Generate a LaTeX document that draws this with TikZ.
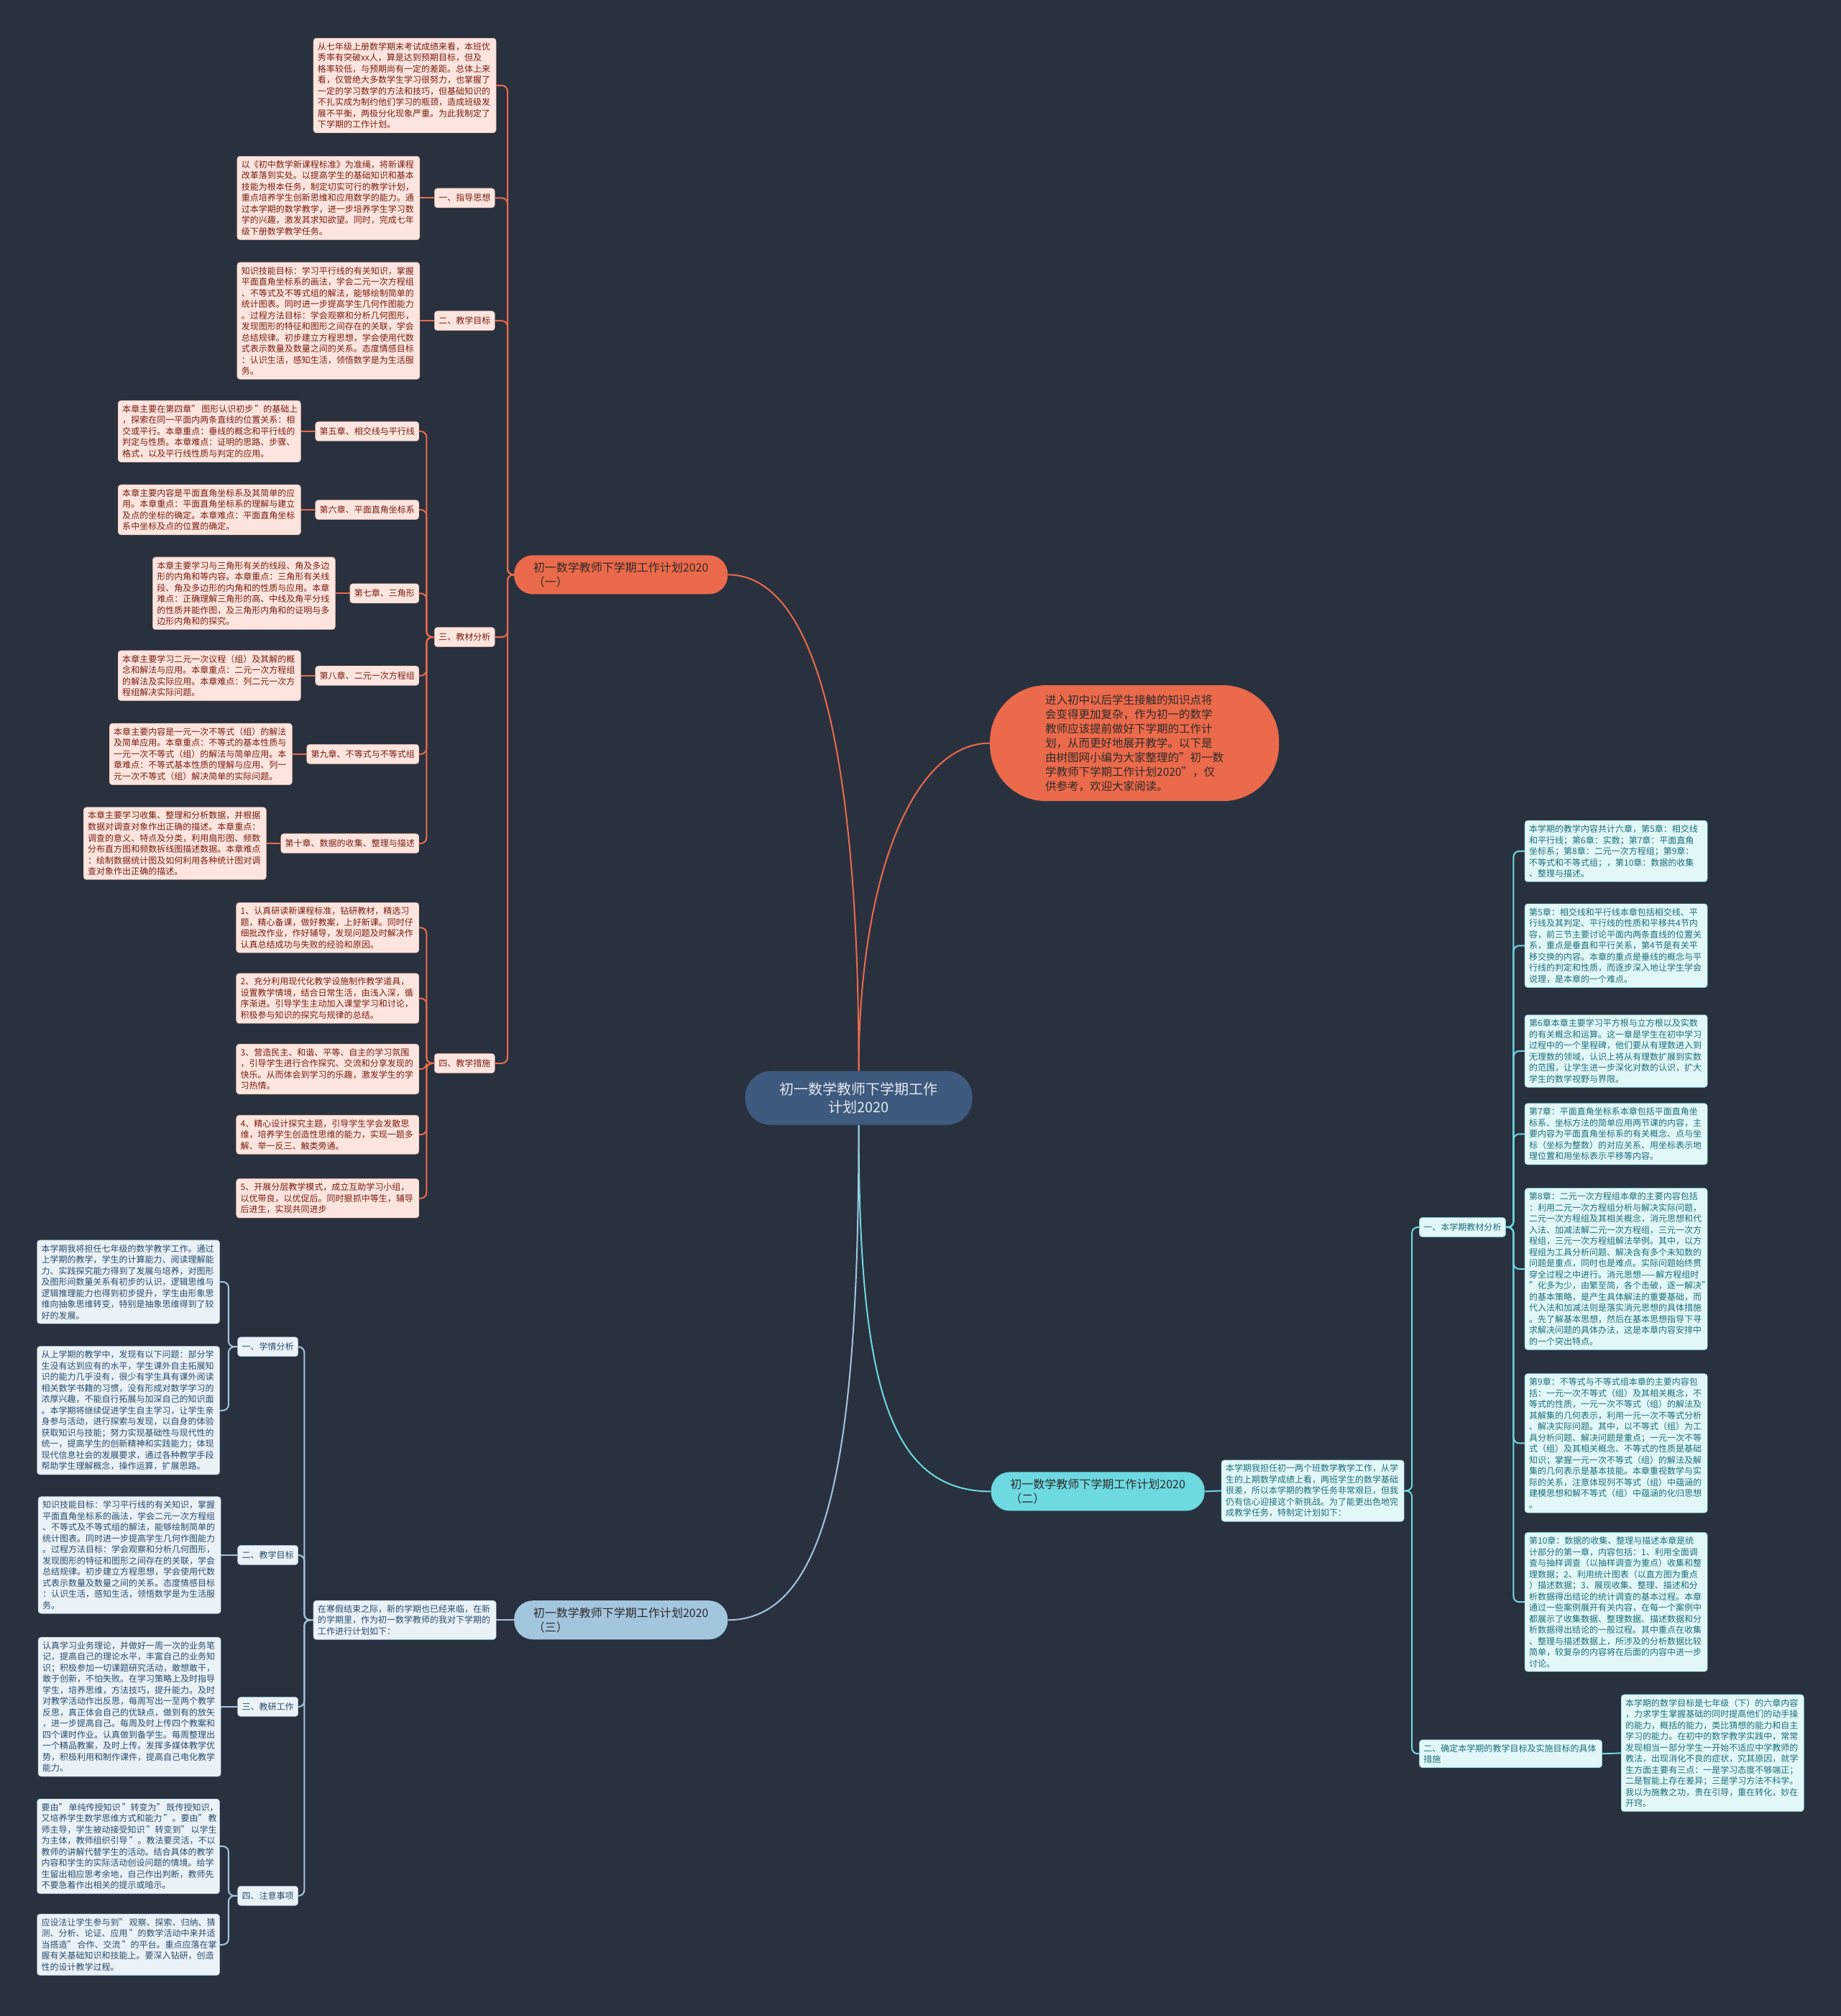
\documentclass[tikz,border=0pt]{standalone}
\usepackage{fontspec}
\setmainfont{Noto Sans CJK SC}
\usetikzlibrary{positioning}

\definecolor{bgc}{HTML}{29313F}
\definecolor{orng}{HTML}{EB6A4B}
\definecolor{ofill}{HTML}{FCE5DE}
\definecolor{otext}{HTML}{7A1E12}
\definecolor{oedge}{HTML}{E9B3A2}
\definecolor{cyn}{HTML}{6DDAE2}
\definecolor{cfill}{HTML}{E2F7F8}
\definecolor{ctext}{HTML}{1C6F79}
\definecolor{lblu}{HTML}{A3C6DF}
\definecolor{bfill}{HTML}{EAF2F8}
\definecolor{btext}{HTML}{2A4C6C}
\definecolor{ctrc}{HTML}{3E5A7E}
\definecolor{ctrtext}{HTML}{E3E9F1}
\definecolor{brtext}{HTML}{2E2A2A}

\newcommand{\boxfont}{\fontsize{12pt}{15.5pt}\selectfont}

\tikzset{
  box/.style={rounded corners=4pt, inner xsep=6pt, inner ysep=6pt, font=\boxfont, align=left},
  otxt/.style={box, draw=oedge, fill=ofill, text=otext, text width=242pt},
  olab/.style={box, draw=oedge, fill=ofill, text=otext, minimum height=27pt},
  btxt/.style={box, draw=lblu, fill=bfill, text=btext, text width=242pt},
  blab/.style={box, draw=lblu, fill=bfill, text=btext, minimum height=27pt},
  ctxt/.style={box, draw=cyn, fill=cfill, text=ctext, text width=242pt},
  clab/.style={box, draw=cyn, fill=cfill, text=ctext, minimum height=27pt},
  bran/.style={rounded corners=26pt, minimum width=297pt, minimum height=54pt,
    font=\fontsize{16pt}{20pt}\selectfont, align=left, text=brtext},
  oline/.style={draw=orng, line width=2pt, rounded corners=8pt},
  bline/.style={draw=lblu, line width=2pt, rounded corners=8pt},
  cline/.style={draw=cyn, line width=2pt, rounded corners=8pt},
}

\begin{document}
\begin{tikzpicture}[x=1.7877pt,y=-1.7877pt]
	\fill[bgc] (0,0) rectangle (1432,1568);
	\useasboundingbox (0,0) rectangle (1432,1568);

	\node[fill=ctrc, rounded corners=36pt, minimum width=316pt, minimum height=75pt, text=ctrtext,
		font=\fontsize{20pt}{25pt}\selectfont, align=center] (ctr) at (668,854) {初一数学教师下学期工作\\计划2020};
	\node[fill=orng, rounded corners=78pt, minimum width=402pt, minimum height=161pt, text=brtext,
		font=\fontsize{15.5pt}{20pt}\selectfont, align=left] (intro) at (882.5,578)
		{进入初中以后学生接触的知识点将\\会变得更加复杂，作为初一的数学\\教师应该提前做好下学期的工作计\\划，从而更好地展开教学。以下是\\由树图网小编为大家整理的"初一数\\学教师下学期工作计划2020"，仅\\供参考，欢迎大家阅读。};

	% (一)
	\node[bran, fill=orng] (br1) at (483,447) {初一数学教师下学期工作计划2020\\（一）};
	\node[otxt, anchor=east] (p1) at (386,66.5) {从七年级上册数学期末考试成绩来看，本班优\\秀率有突破xx人，算是达到预期目标，但及\\格率较低，与预期尚有一定的差距。总体上来\\看，仅管绝大多数学生学习很努力，也掌握了\\一定的学习数学的方法和技巧，但基础知识的\\不扎实成为制约他们学习的瓶颈，造成班级发\\展不平衡，两极分化现象严重。为此我制定了\\下学期的工作计划。};
	\node[olab, anchor=east] (g1) at (385,154) {一、指导思想};
	\node[otxt, left=20pt of g1] (g1t) {以《初中数学新课程标准》为准绳，将新课程\\改革落到实处。以提高学生的基础知识和基本\\技能为根本任务，制定切实可行的教学计划，\\重点培养学生创新思维和应用数学的能力。通\\过本学期的数学教学，进一步培养学生学习数\\学的兴趣，激发其求知欲望。同时，完成七年\\级下册数学教学任务。};
	\node[olab, anchor=east] (g2) at (385,249.5) {二、教学目标};
	\node[otxt, left=20pt of g2] (g2t) {知识技能目标：学习平行线的有关知识，掌握\\平面直角坐标系的画法，学会二元一次方程组\\、不等式及不等式组的解法，能够绘制简单的\\统计图表。同时进一步提高学生几何作图能力\\。过程方法目标：学会观察和分析几何图形，\\发现图形的特征和图形之间存在的关联，学会\\总结规律。初步建立方程思想，学会使用代数\\式表示数量及数量之间的关系。态度情感目标\\：认识生活，感知生活，领悟数学是为生活服\\务。};
	\node[olab, anchor=east] (g3) at (385,495.5) {三、教材分析};
	\node[olab, anchor=east] (c5) at (326,335.5) {第五章、相交线与平行线};
	\node[otxt, left=20pt of c5] (t5) {本章主要在第四章"\,图形认识初步\,"的基础上\\，探索在同一平面内两条直线的位置关系：相\\交或平行。本章重点：垂线的概念和平行线的\\判定与性质。本章难点：证明的思路、步骤、\\格式，以及平行线性质与判定的应用。};
	\node[olab, anchor=east] (c6) at (326,396.5) {第六章、平面直角坐标系};
	\node[otxt, left=20pt of c6] (t6) {本章主要内容是平面直角坐标系及其简单的应\\用。本章重点：平面直角坐标系的理解与建立\\及点的坐标的确定。本章难点：平面直角坐标\\系中坐标及点的位置的确定。};
	\node[olab, anchor=east] (c7) at (326,461.5) {第七章、三角形};
	\node[otxt, left=20pt of c7] (t7) {本章主要学习与三角形有关的线段、角及多边\\形的内角和等内容。本章重点：三角形有关线\\段、角及多边形的内角和的性质与应用。本章\\难点：正确理解三角形的高、中线及角平分线\\的性质并能作图，及三角形内角和的证明与多\\边形内角和的探究。};
	\node[olab, anchor=east] (c8) at (326,525.5) {第八章、二元一次方程组};
	\node[otxt, left=20pt of c8] (t8) {本章主要学习二元一次议程（组）及其解的概\\念和解法与应用。本章重点：二元一次方程组\\的解法及实际应用。本章难点：列二元一次方\\程组解决实际问题。};
	\node[olab, anchor=east] (c9) at (326,586.5) {第九章、不等式与不等式组};
	\node[otxt, left=20pt of c9] (t9) {本章主要内容是一元一次不等式（组）的解法\\及简单应用。本章重点：不等式的基本性质与\\一元一次不等式（组）的解法与简单应用。本\\章难点：不等式基本性质的理解与应用、列一\\元一次不等式（组）解决简单的实际问题。};
	\node[olab, anchor=east] (c10) at (326,656) {第十章、数据的收集、整理与描述};
	\node[otxt, left=20pt of c10] (t10) {本章主要学习收集、整理和分析数据，并根据\\数据对调查对象作出正确的描述。本章重点：\\调查的意义、特点及分类，利用扇形图、频数\\分布直方图和频数拆线图描述数据。本章难点\\：绘制数据统计图及如何利用各种统计图对调\\查对象作出正确的描述。};
	\node[olab, anchor=east] (g4) at (385,827) {四、教学措施};
	\node[otxt, anchor=east] (m1) at (326,721.5) {1、认真研读新课程标准，钻研教材，精选习\\题，精心备课，做好教案，上好新课。同时仔\\细批改作业，作好辅导，发现问题及时解决作\\认真总结成功与失败的经验和原因。};
	\node[otxt, anchor=east] (m2) at (326,776.5) {2、充分利用现代化教学设施制作教学道具，\\设置教学情境，结合日常生活，由浅入深，循\\序渐进。引导学生主动加入课堂学习和讨论，\\积极参与知识的探究与规律的总结。};
	\node[otxt, anchor=east] (m3) at (326,831.5) {3、营造民主、和谐、平等、自主的学习氛围\\，引导学生进行合作探究、交流和分享发现的\\快乐。从而体会到学习的乐趣，激发学生的学\\习热情。};
	\node[otxt, anchor=east] (m4) at (326,882.5) {4、精心设计探究主题，引导学生学会发散思\\维，培养学生创造性思维的能力，实现一题多\\解、举一反三、触类旁通。};
	\node[otxt, anchor=east] (m5) at (326,932) {5、开展分层教学模式，成立互助学习小组，\\以优带良，以优促后。同时狠抓中等生，辅导\\后进生，实现共同进步};

	\foreach \c in {p1,g1,g2,g3,g4}
		\draw[oline] (br1.west) -- ++(-5,0) |- (\c.east);
	\draw[oline] (g1.west) -- (g1t.east);
	\draw[oline] (g2.west) -- (g2t.east);
	\foreach \c in {5,...,10} {
		\draw[oline] (g3.west) -- ++(-6,0) |- (c\c.east);
		\draw[oline] (c\c.west) -- (t\c.east);
	}
	\foreach \c in {m1,m2,m3,m4,m5}
		\draw[oline] (g4.west) -- ++(-6,0) |- (\c.east);

	% (三)
	\node[bran, fill=lblu] (br3) at (483,1260) {初一数学教师下学期工作计划2020\\（三）};
	\node[btxt, anchor=east] (b0) at (386,1260) {在寒假结束之际，新的学期也已经来临，在新\\的学期里，作为初一数学教师的我对下学期的\\工作进行计划如下：};
	\node[blab, anchor=east] (s1) at (232,1047.5) {一、学情分析};
	\node[btxt, anchor=east] (s1a) at (171,997) {本学期我将担任七年级的数学教学工作。通过\\上学期的教学，学生的计算能力、阅读理解能\\力、实践探究能力得到了发展与培养，对图形\\及图形间数量关系有初步的认识，逻辑思维与\\逻辑推理能力也得到初步提升，学生由形象思\\维向抽象思维转变，特别是抽象思维得到了较\\好的发展。};
	\node[btxt, anchor=east] (s1b) at (171,1097) {从上学期的教学中，发现有以下问题：部分学\\生没有达到应有的水平，学生课外自主拓展知\\识的能力几乎没有，很少有学生具有课外阅读\\相关数学书籍的习惯，没有形成对数学学习的\\浓厚兴趣，不能自行拓展与加深自己的知识面\\。本学期将继续促进学生自主学习，让学生亲\\身参与活动，进行探索与发现，以自身的体验\\获取知识与技能；努力实现基础性与现代性的\\统一，提高学生的创新精神和实践能力；体现\\现代信息社会的发展要求，通过各种教学手段\\帮助学生理解概念，操作运算，扩展思路。};
	\node[blab, anchor=east] (s2) at (232,1209.5) {二、教学目标};
	\node[btxt, left=23pt of s2] (s2t) {知识技能目标：学习平行线的有关知识，掌握\\平面直角坐标系的画法，学会二元一次方程组\\、不等式及不等式组的解法，能够绘制简单的\\统计图表。同时进一步提高学生几何作图能力\\。过程方法目标：学会观察和分析几何图形，\\发现图形的特征和图形之间存在的关联，学会\\总结规律。初步建立方程思想，学会使用代数\\式表示数量及数量之间的关系。态度情感目标\\：认识生活，感知生活，领悟数学是为生活服\\务。};
	\node[blab, anchor=east] (s3) at (232,1327.5) {三、教研工作};
	\node[btxt, left=23pt of s3] (s3t) {认真学习业务理论，并做好一周一次的业务笔\\记，提高自己的理论水平，丰富自己的业务知\\识；积极参加一切课题研究活动，敢想敢干，\\敢于创新，不怕失败。在学习策略上及时指导\\学生，培养思维，方法技巧，提升能力。及时\\对教学活动作出反思，每周写出一至两个教学\\反思，真正体会自己的优缺点，做到有的放矢\\，进一步提高自己。每周及时上传四个教案和\\四个课时作业。认真做到备学生。每周整理出\\一个精品教案，及时上传。发挥多媒体教学优\\势，积极利用和制作课件，提高自己电化教学\\能力。};
	\node[blab, anchor=east] (s4) at (232,1474.5) {四、注意事项};
	\node[btxt, anchor=east] (s4a) at (171,1436) {要由"\,单纯传授知识\,"转变为"\,既传授知识，\\又培养学生数学思维方式和能力\,"。要由"\,教\\师主导，学生被动接受知识\,"转变到"\,以学生\\为主体，教师组织引导\,"。教法要灵活，不以\\教师的讲解代替学生的活动。结合具体的教学\\内容和学生的实际活动创设问题的情境。给学\\生留出相应思考余地，自己作出判断，教师先\\不要急着作出相关的提示或暗示。};
	\node[btxt, anchor=east] (s4b) at (171,1512.5) {应设法让学生参与到"\,观察、探索、归纳、猜\\测、分析、论证、应用\,"的数学活动中来并适\\当搭造"\,合作、交流\,"的平台。重点应落在掌\\握有关基础知识和技能上。要深入钻研，创造\\性的设计教学过程。};

	\draw[bline] (br3.west) -- (b0.east);
	\foreach \c in {s1,s2,s3,s4}
		\draw[bline] (b0.west) -- ++(-7,0) |- (\c.east);
	\foreach \c in {s1a,s1b}
		\draw[bline] (s1.west) -- ++(-7,0) |- (\c.east);
	\draw[bline] (s2.west) -- (s2t.east);
	\draw[bline] (s3.west) -- (s3t.east);
	\foreach \c in {s4a,s4b}
		\draw[bline] (s4.west) -- ++(-7,0) |- (\c.east);

	% (二)
	\node[bran, fill=cyn] (br2) at (854,1160) {初一数学教师下学期工作计划2020\\（二）};
	\node[ctxt, anchor=west] (c0) at (950,1159.5) {本学期我担任初一两个班数学教学工作，从学\\生的上期数学成绩上看，两班学生的数学基础\\很差，所以本学期的教学任务非常艰巨，但我\\仍有信心迎接这个新挑战。为了能更出色地完\\成教学任务，特制定计划如下：};
	\node[clab, anchor=west] (r1) at (1104,954.5) {一、本学期教材分析};
	\node[ctxt, anchor=west] (k1) at (1186,662) {本学期的教学内容共计六章，第5章：相交线\\和平行线；第6章：实数；第7章：平面直角\\坐标系；第8章：二元一次方程组；第9章：\\不等式和不等式组；，第10章：数据的收集\\、整理与描述。};
	\node[ctxt, anchor=west] (k2) at (1186,735.5) {第5章：相交线和平行线本章包括相交线、平\\行线及其判定、平行线的性质和平移共4节内\\容，前三节主要讨论平面内两条直线的位置关\\系，重点是垂直和平行关系，第4节是有关平\\移交换的内容。本章的重点是垂线的概念与平\\行线的判定和性质，而逐步深入地让学生学会\\说理，是本章的一个难点。};
	\node[ctxt, anchor=west] (k3) at (1186,817.5) {第6章本章主要学习平方根与立方根以及实数\\的有关概念和运算。这一章是学生在初中学习\\过程中的一个里程碑，他们要从有理数进入到\\无理数的领域，认识上将从有理数扩展到实数\\的范围，让学生进一步深化对数的认识，扩大\\学生的数学视野与界限。};
	\node[ctxt, anchor=west] (k4) at (1186,882) {第7章：平面直角坐标系本章包括平面直角坐\\标系、坐标方法的简单应用两节课的内容，主\\要内容为平面直角坐标系的有关概念、点与坐\\标（坐标为整数）的对应关系、用坐标表示地\\理位置和用坐标表示平移等内容。};
	\node[ctxt, anchor=west] (k5) at (1186,987) {第8章：二元一次方程组本章的主要内容包括\\：利用二元一次方程组分析与解决实际问题，\\二元一次方程组及其相关概念，消元思想和代\\入法、加减法解二元一次方程组，三元一次方\\程组，三元一次方程组解法举例。其中，以方\\程组为工具分析问题、解决含有多个未知数的\\问题是重点，同时也是难点。实际问题始终贯\\穿全过程之中进行。消元思想——解方程组时\\"化多为少，由繁至简，各个击破，逐一解决"\\的基本策略，是产生具体解法的重要基础，而\\代入法和加减法则是落实消元思想的具体措施\\。先了解基本思想，然后在基本思想指导下寻\\求解决问题的具体办法，这是本章内容安排中\\的一个突出特点。};
	\node[ctxt, anchor=west] (k6) at (1186,1122.5) {第9章：不等式与不等式组本章的主要内容包\\括：一元一次不等式（组）及其相关概念，不\\等式的性质，一元一次不等式（组）的解法及\\其解集的几何表示，利用一元一次不等式分析\\、解决实际问题。其中，以不等式（组）为工\\具分析问题、解决问题是重点；一元一次不等\\式（组）及其相关概念、不等式的性质是基础\\知识；掌握一元一次不等式（组）的解法及解\\集的几何表示是基本技能。本章重视数学与实\\际的关系，注意体现列不等式（组）中蕴涵的\\建模思想和解不等式（组）中蕴涵的化归思想\\。};
	\node[ctxt, anchor=west] (k7) at (1186,1246) {第10章：数据的收集、整理与描述本章是统\\计部分的第一章，内容包括：1、利用全面调\\查与抽样调查（以抽样调查为重点）收集和整\\理数据；2、利用统计图表（以直方图为重点\\）描述数据；3、展现收集、整理、描述和分\\析数据得出结论的统计调查的基本过程。本章\\通过一些案例展开有关内容，在每一个案例中\\都展示了收集数据、整理数据、描述数据和分\\析数据得出结论的一般过程。其中重点在收集\\、整理与描述数据上，所涉及的分析数据比较\\简单，较复杂的内容将在后面的内容中进一步\\讨论。};
	\node[clab, anchor=west, text width=242pt] (r2) at (1104,1364) {二、确定本学期的教学目标及实施目标的具体\\措施};
	\node[ctxt, anchor=west] (r2t) at (1261,1363.5) {本学期的数学目标是七年级（下）的六章内容\\，力求学生掌握基础的同时提高他们的动手操\\的能力，概括的能力，类比猜想的能力和自主\\学习的能力。在初中的数学教学实践中，常常\\发现相当一部分学生一开始不适应中学教师的\\教法，出现消化不良的症状，究其原因，就学\\生方面主要有三点：一是学习态度不够端正；\\二是智能上存在差异；三是学习方法不科学。\\我以为施教之功，贵在引导，重在转化，妙在\\开窍。};

	\draw[cline] (br2.east) -- (c0.west);
	\foreach \c in {r1,r2}
		\draw[cline] (c0.east) -- ++(6,0) |- (\c.west);
	\foreach \c in {1,...,7}
		\draw[cline] (r1.east) -- ++(6,0) |- (k\c.west);
	\draw[cline] (r2.east) -- (r2t.west);

	% main branches
	\draw[oline] (ctr.north) .. controls +(0,-200) and +(80,0) .. (br1.east);
	\draw[oline] (ctr.north) .. controls +(0,-150) and +(-60,0) .. (intro.west);
	\draw[cline] (ctr.south) .. controls +(0,200) and +(-80,0) .. (br2.west);
	\draw[bline] (ctr.south) .. controls +(0,250) and +(80,0) .. (br3.east);
\end{tikzpicture}
\end{document}
